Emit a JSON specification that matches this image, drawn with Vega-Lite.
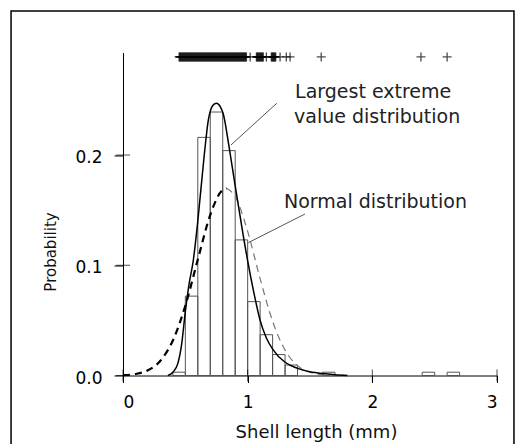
{
  "$schema": "https://vega.github.io/schema/vega-lite/v6.json",
  "width": 374,
  "height": 323,
  "autosize": {"type": "none"},
  "padding": {"left": 123, "top": 52.5, "right": 27, "bottom": 68.5},
  "background": "white",
  "config": {"view": {"stroke": null}, "font": "DejaVu Sans"},
  "datasets": {
    "bars": [
      {"b0": 0.4, "b1": 0.5, "p": 0.003},
      {"b0": 0.5, "b1": 0.6, "p": 0.072},
      {"b0": 0.6, "b1": 0.7, "p": 0.216},
      {"b0": 0.7, "b1": 0.8, "p": 0.239},
      {"b0": 0.8, "b1": 0.9, "p": 0.204},
      {"b0": 0.9, "b1": 1.0, "p": 0.123},
      {"b0": 1.0, "b1": 1.1, "p": 0.067},
      {"b0": 1.1, "b1": 1.2, "p": 0.037},
      {"b0": 1.2, "b1": 1.3, "p": 0.019},
      {"b0": 1.3, "b1": 1.4, "p": 0.0095},
      {"b0": 1.6, "b1": 1.7, "p": 0.003},
      {"b0": 2.4, "b1": 2.5, "p": 0.003},
      {"b0": 2.6, "b1": 2.7, "p": 0.003}
    ],
    "gumbel": [
      {"x": 0.36, "p": 0.0}, {"x": 0.40, "p": 0.003}, {"x": 0.44, "p": 0.011},
      {"x": 0.47, "p": 0.028}, {"x": 0.50, "p": 0.058}, {"x": 0.53, "p": 0.083},
      {"x": 0.564, "p": 0.1045}, {"x": 0.60, "p": 0.140}, {"x": 0.65, "p": 0.198},
      {"x": 0.685, "p": 0.232}, {"x": 0.72, "p": 0.245}, {"x": 0.75, "p": 0.247},
      {"x": 0.78, "p": 0.244}, {"x": 0.805, "p": 0.237}, {"x": 0.85, "p": 0.208},
      {"x": 0.90, "p": 0.172}, {"x": 0.95, "p": 0.137}, {"x": 1.00, "p": 0.104},
      {"x": 1.05, "p": 0.075}, {"x": 1.10, "p": 0.050}, {"x": 1.15, "p": 0.034},
      {"x": 1.20, "p": 0.024}, {"x": 1.30, "p": 0.012}, {"x": 1.40, "p": 0.0065},
      {"x": 1.50, "p": 0.0035}, {"x": 1.60, "p": 0.0018}, {"x": 1.70, "p": 0.0007},
      {"x": 1.80, "p": 0.0}
    ],
    "normal": [
      {"x": 0.0, "p": 0.0003, "part": "left"}, {"x": 0.1, "p": 0.0014, "part": "left"},
      {"x": 0.2, "p": 0.0047, "part": "left"}, {"x": 0.3, "p": 0.0134, "part": "left"},
      {"x": 0.4, "p": 0.0318, "part": "left"}, {"x": 0.5, "p": 0.0633, "part": "left"},
      {"x": 0.6, "p": 0.1052, "part": "left"}, {"x": 0.7, "p": 0.1457, "part": "left"},
      {"x": 0.8, "p": 0.1684, "part": "left"}, {"x": 0.83, "p": 0.1698, "part": "left"},
      {"x": 0.83, "p": 0.1698, "part": "right"}, {"x": 0.9, "p": 0.1624, "part": "right"},
      {"x": 1.0, "p": 0.1307, "part": "right"}, {"x": 1.1, "p": 0.0878, "part": "right"},
      {"x": 1.2, "p": 0.0492, "part": "right"}, {"x": 1.3, "p": 0.0230, "part": "right"},
      {"x": 1.4, "p": 0.0090, "part": "right"}, {"x": 1.5, "p": 0.0029, "part": "right"},
      {"x": 1.6, "p": 0.0008, "part": "right"}, {"x": 1.7, "p": 0.0002, "part": "right"},
      {"x": 1.8, "p": 0.0, "part": "right"}
    ],
    "rug": [
      {"x": 0.450}, {"x": 0.455}, {"x": 0.460}, {"x": 0.465}, {"x": 0.470}, {"x": 0.475},
      {"x": 0.480}, {"x": 0.485}, {"x": 0.490}, {"x": 0.495}, {"x": 0.500}, {"x": 0.505},
      {"x": 0.510}, {"x": 0.515}, {"x": 0.520}, {"x": 0.525}, {"x": 0.530}, {"x": 0.535},
      {"x": 0.540}, {"x": 0.545}, {"x": 0.550}, {"x": 0.555}, {"x": 0.560}, {"x": 0.565},
      {"x": 0.570}, {"x": 0.575}, {"x": 0.580}, {"x": 0.585}, {"x": 0.590}, {"x": 0.595},
      {"x": 0.600}, {"x": 0.605}, {"x": 0.610}, {"x": 0.615}, {"x": 0.620}, {"x": 0.625},
      {"x": 0.630}, {"x": 0.635}, {"x": 0.640}, {"x": 0.645}, {"x": 0.650}, {"x": 0.655},
      {"x": 0.660}, {"x": 0.665}, {"x": 0.670}, {"x": 0.675}, {"x": 0.680}, {"x": 0.685},
      {"x": 0.690}, {"x": 0.695}, {"x": 0.700}, {"x": 0.705}, {"x": 0.710}, {"x": 0.715},
      {"x": 0.720}, {"x": 0.725}, {"x": 0.730}, {"x": 0.735}, {"x": 0.740}, {"x": 0.745},
      {"x": 0.750}, {"x": 0.755}, {"x": 0.760}, {"x": 0.765}, {"x": 0.770}, {"x": 0.775},
      {"x": 0.780}, {"x": 0.785}, {"x": 0.790}, {"x": 0.795}, {"x": 0.800}, {"x": 0.805},
      {"x": 0.810}, {"x": 0.815}, {"x": 0.820}, {"x": 0.825}, {"x": 0.830}, {"x": 0.835},
      {"x": 0.840}, {"x": 0.845}, {"x": 0.850}, {"x": 0.855}, {"x": 0.860}, {"x": 0.865},
      {"x": 0.870}, {"x": 0.875}, {"x": 0.880}, {"x": 0.885}, {"x": 0.890}, {"x": 0.895},
      {"x": 0.900}, {"x": 0.905}, {"x": 0.910}, {"x": 0.915}, {"x": 0.920}, {"x": 0.925},
      {"x": 0.930}, {"x": 0.935}, {"x": 0.940}, {"x": 0.945}, {"x": 0.950}, {"x": 0.955},
      {"x": 0.960}, {"x": 0.965}, {"x": 0.970}, {"x": 0.975}, {"x": 0.980}, {"x": 0.985},
      {"x": 0.990}, {"x": 1.02}, {"x": 1.070}, {"x": 1.075}, {"x": 1.080}, {"x": 1.085},
      {"x": 1.090}, {"x": 1.095}, {"x": 1.100}, {"x": 1.105}, {"x": 1.110}, {"x": 1.115},
      {"x": 1.120}, {"x": 1.125}, {"x": 1.15}, {"x": 1.190}, {"x": 1.195}, {"x": 1.200},
      {"x": 1.205}, {"x": 1.210}, {"x": 1.215}, {"x": 1.220}, {"x": 1.225}, {"x": 1.26},
      {"x": 1.31}, {"x": 1.34}, {"x": 1.59}, {"x": 2.39}, {"x": 2.60}
    ],
    "labels": [
      {"x": 1.380, "y": 0.2515, "t": "Largest extreme"},
      {"x": 1.372, "y": 0.229, "t": "value distribution"},
      {"x": 1.291, "y": 0.1517, "t": "Normal distribution"}
    ],
    "leaders": [
      {"x": 1.233, "y": 0.2469, "x2": 0.866, "y2": 0.2091},
      {"x": 1.460, "y": 0.1465, "x2": 1.005, "y2": 0.1205}
    ],
    "xticks": [{"v": 0}, {"v": 1}, {"v": 2}, {"v": 3}],
    "yticks": [{"v": 0}, {"v": 0.1}, {"v": 0.2}]
  },
  "layer": [
    {
      "data": {"values": [{"k": 1}]},
      "mark": {"type": "rect", "fill": null, "stroke": "black", "strokeWidth": 1.5},
      "encoding": {
        "x": {"datum": -0.898, "type": "quantitative", "scale": {"domain": [0, 3], "nice": false, "zero": false},
          "axis": {"values": [0, 1, 2, 3], "format": "d", "grid": false, "labelFont": "DejaVu Sans", "labelFontSize": 17, "labelColor": "black", "labelPadding": 12, "tickSize": 7, "tickColor": "black", "domainColor": "black", "title": "Shell length (mm)", "titleFont": "DejaVu Sans", "titleFontSize": 18, "titleFontWeight": "normal", "titleColor": "#111", "titleX": 193, "titleY": 61.5, "titleBaseline": "alphabetic", "titleAlign": "center"}},
        "x2": {"datum": 3.136},
        "y": {"datum": 0.3306, "type": "quantitative", "scale": {"domain": [0, 0.293], "nice": false, "zero": false},
          "axis": {"values": [0, 0.1, 0.2], "format": ".1f", "grid": false, "labelFont": "DejaVu Sans", "labelFontSize": 17, "labelColor": "black", "labelPadding": 12, "labelOffset": 2.5, "tickSize": 9, "tickColor": "black", "domainColor": "black", "title": "Probability", "titleFont": "DejaVu Sans", "titleFontSize": 15, "titleFontWeight": "normal", "titleColor": "#111", "titleX": -68, "titleY": 199, "titleBaseline": "alphabetic", "titleAlign": "center", "titleAngle": -90}},
        "y2": {"datum": -0.09}
      }
    },
    {
      "data": {"name": "bars"},
      "mark": {"type": "rect", "fill": null, "stroke": "#555", "strokeWidth": 1},
      "encoding": {
        "x": {"field": "b0", "type": "quantitative"},
        "x2": {"field": "b1"},
        "y": {"field": "p", "type": "quantitative"},
        "y2": {"datum": 0}
      }
    },
    {
      "data": {"name": "normal"},
      "transform": [{"filter": "datum.part === 'right'"}],
      "mark": {"type": "line", "stroke": "#777", "strokeWidth": 1.2, "strokeDash": [7, 5], "interpolate": "monotone"},
      "encoding": {
        "x": {"field": "x", "type": "quantitative"},
        "y": {"field": "p", "type": "quantitative"}
      }
    },
    {
      "data": {"name": "normal"},
      "transform": [{"filter": "datum.part === 'left'"}],
      "mark": {"type": "line", "stroke": "black", "strokeWidth": 2.2, "strokeDash": [7, 5], "interpolate": "monotone"},
      "encoding": {
        "x": {"field": "x", "type": "quantitative"},
        "y": {"field": "p", "type": "quantitative"}
      }
    },
    {
      "data": {"name": "gumbel"},
      "mark": {"type": "line", "stroke": "black", "strokeWidth": 1.5, "interpolate": "monotone"},
      "encoding": {
        "x": {"field": "x", "type": "quantitative"},
        "y": {"field": "p", "type": "quantitative"}
      }
    },
    {
      "data": {"name": "rug"},
      "mark": {"type": "point", "shape": "M-1,0H1M0,-1V1", "filled": false, "stroke": "black", "strokeWidth": 1.3, "size": 81},
      "encoding": {
        "x": {"field": "x", "type": "quantitative"},
        "y": {"datum": 0.289, "type": "quantitative"}
      }
    },
    {
      "data": {"name": "leaders"},
      "mark": {"type": "rule", "stroke": "#555", "strokeWidth": 1},
      "encoding": {
        "x": {"field": "x", "type": "quantitative"},
        "y": {"field": "y", "type": "quantitative"},
        "x2": {"field": "x2"},
        "y2": {"field": "y2"}
      }
    },
    {
      "data": {"name": "labels"},
      "mark": {"type": "text", "font": "DejaVu Sans", "fontSize": 19, "align": "left", "baseline": "alphabetic", "color": "#222"},
      "encoding": {
        "x": {"field": "x", "type": "quantitative"},
        "y": {"field": "y", "type": "quantitative"},
        "text": {"field": "t"}
      }
    },
    {
      "data": {"name": "xticks"},
      "mark": {"type": "tick", "orient": "vertical", "color": "black", "size": 12, "thickness": 1},
      "encoding": {
        "x": {"field": "v", "type": "quantitative"},
        "y": {"datum": 0, "type": "quantitative"}
      }
    },
    {
      "data": {"name": "yticks"},
      "mark": {"type": "tick", "orient": "horizontal", "color": "black", "size": 14, "thickness": 1},
      "encoding": {
        "x": {"datum": 0, "type": "quantitative"},
        "y": {"field": "v", "type": "quantitative"}
      }
    }
  ]
}
